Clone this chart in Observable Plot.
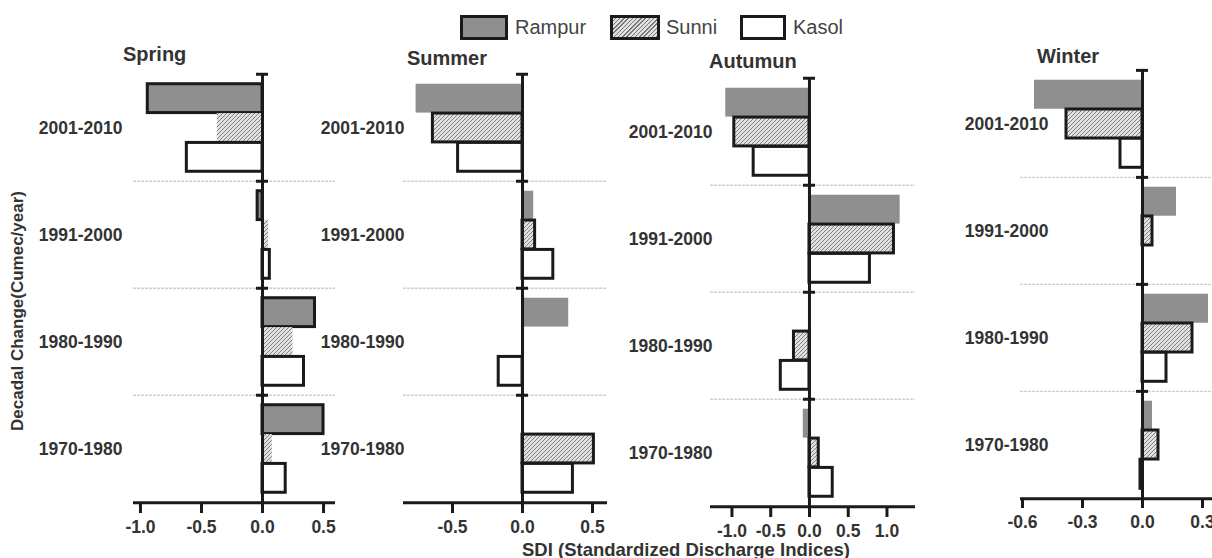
<!DOCTYPE html>
<html><head><meta charset="utf-8">
<script src="https://cdn.jsdelivr.net/npm/d3@7"></script>
<script src="https://cdn.jsdelivr.net/npm/@observablehq/plot@0.6"></script>
<style>
html,body{margin:0;padding:0;background:#fff;overflow:hidden}
#chart{position:relative;width:1212px;height:558px;overflow:hidden;font-family:"Liberation Sans",Arial,sans-serif;color:#333;background:#fff}
.lab{position:absolute;white-space:nowrap;line-height:1}
.title{font-weight:bold;font-size:20px;color:#333}
.sw{position:absolute;box-sizing:border-box;border:3px solid #1a1a1a;height:25px}
.legtxt{font-size:20px;color:#444}
</style></head><body>
<svg width="0" height="0" style="position:absolute">
  <defs>
    <pattern id="hatch" patternUnits="userSpaceOnUse" width="4" height="4">
      <rect width="4" height="4" fill="#e0e0e0"></rect>
      <path d="M-1,1 l2,-2 M0,4 l4,-4 M3,5 l2,-2" stroke="#777" stroke-width="0.9"></path>
    </pattern>
  </defs>
</svg>
<div id="chart"></div>
<script>
// ---- data ----
const decades = ["2001-2010", "1991-2000", "1980-1990", "1970-1980"];
const stations = ["Rampur", "Sunni", "Kasol"];
const seasons = ["Spring", "Summer", "Autumun", "Winter"];

const springRampur = [-0.94, -0.04, 0.43, 0.50];
const springSunni  = [-0.37,  0.05, 0.25, 0.08];
const springKasol  = [-0.62,  0.06, 0.34, 0.19];

const summerRampur = [-0.76, 0.08, 0.33, 0.00];
const summerSunni  = [-0.64, 0.09, 0.00, 0.51];
const summerKasol  = [-0.46, 0.22, -0.17, 0.36];

const autumnRampur = [-1.08, 1.17, 0.00, -0.08];
const autumnSunni  = [-0.97, 1.09, -0.20, 0.12];
const autumnKasol  = [-0.72, 0.78, -0.37, 0.30];

const winterRampur = [-0.54, 0.17, 0.33, 0.05];
const winterSunni  = [-0.38, 0.05, 0.25, 0.08];
const winterKasol  = [-0.11, 0.00, 0.12, -0.01];

const springTicks = [-1.0, -0.5, 0.0, 0.5];
const summerTicks = [-0.5, 0.0, 0.5];
const autumnTicks = [-1.0, -0.5, 0.0, 0.5, 1.0];
const winterTicks = [-0.6, -0.3, 0.0, 0.3];

const yTitle = "Decadal Change(Cumec/year)";
const xTitle = "SDI (Standardized Discharge Indices)";

// ---- layout / style (not data) ----
const panels = [
  {season: "Spring", values: {Rampur: springRampur, Sunni: springSunni, Kasol: springKasol}, ticks: springTicks,
   left: 133, right: 335, top: 73, bottom: 503, domain: [-1.057, 0.598], gap: 11, title: [123, 44], rStroke: true, sStroke: false},
  {season: "Summer", values: {Rampur: summerRampur, Sunni: summerSunni, Kasol: summerKasol}, ticks: summerTicks,
   left: 403, right: 607, top: 73, bottom: 503, domain: [-0.85, 0.607], gap: -1, title: [407, 48], rStroke: false, sStroke: true},
  {season: "Autumun", values: {Rampur: autumnRampur, Sunni: autumnSunni, Kasol: autumnKasol}, ticks: autumnTicks,
   left: 710, right: 915, top: 77, bottom: 507, domain: [-1.277, 1.368], gap: -2, title: [709, 51], rStroke: false, sStroke: true},
  {season: "Winter", values: {Rampur: winterRampur, Sunni: winterSunni, Kasol: winterKasol}, ticks: winterTicks,
   left: 1020, right: 1240, top: 69, bottom: 498, domain: [-0.61, 0.49], gap: -28, title: [1037, 46], rStroke: false, sStroke: true}
];

const chart = document.getElementById("chart");
const SVGW = 1260, SVGH = 558;
const black = "#1a1a1a";

function addDiv(cls, text, css) {
  const d = document.createElement("div");
  d.className = cls;
  d.textContent = text;
  Object.assign(d.style, css);
  chart.appendChild(d);
  return d;
}

for (const P of panels) {
  const rows = [];
  stations.forEach(s => decades.forEach((d, i) => rows.push({station: s, decade: d, value: P.values[s][i]})));
  const bandH = (P.bottom - P.top) / decades.length;
  const barH = bandH * 0.273;
  const inset = (bandH - barH) / 2;
  const offs = {Rampur: -barH, Sunni: 0, Kasol: barH};
  const fills = {Rampur: "#8f8f8f", Sunni: "url(#hatch)", Kasol: "#ffffff"};
  const strokes = {Rampur: P.rStroke ? black : "none", Sunni: P.sStroke ? black : "none", Kasol: black};

  const svg = Plot.plot({
    width: SVGW, height: SVGH,
    marginLeft: P.left, marginRight: SVGW - P.right,
    marginTop: P.top, marginBottom: SVGH - P.bottom,
    style: {background: "transparent", overflow: "visible", maxWidth: "none",
            fontFamily: "'Liberation Sans', Arial, sans-serif", fontSize: "17.5px"},
    x: {domain: P.domain},
    y: {domain: decades, padding: 0},
    marks: [
      Plot.ruleY(decades.slice(1), {y: d => d, dy: -bandH / 2, stroke: "#cfcfcf", strokeWidth: 1.3, strokeDasharray: "3,1"}),
      ...stations.map(s => Plot.barX(rows.filter(r => r.station === s), {
        x: "value", y: "decade", insetTop: inset, insetBottom: inset, dy: offs[s],
        fill: fills[s], stroke: strokes[s], strokeWidth: 3
      })),
      Plot.ruleX([0], {stroke: black, strokeWidth: 3}),
      Plot.ruleY(decades, {y: d => d, x1: 0, x2: 0, insetLeft: -6, insetRight: -6, dy: -bandH / 2, stroke: black, strokeWidth: 3}),
      Plot.ruleY(decades.slice(-1), {y: d => d, dy: bandH / 2, stroke: black, strokeWidth: 3}),
      Plot.axisX({ticks: P.ticks, tickSize: 10, tickPadding: 7, stroke: black, strokeWidth: 3,
                  tickFormat: d => d.toFixed(1), fontWeight: "bold", fill: "#333", label: null}),
      Plot.axisY({tickSize: 0, tickPadding: P.gap, fontWeight: "bold", fill: "#333", label: null})
    ]
  });
  svg.style.position = "absolute";
  svg.style.left = "0px";
  svg.style.top = "0px";
  chart.appendChild(svg);

  addDiv("lab title", P.season, {left: P.title[0] + "px", top: P.title[1] + "px"});
}

// legend
const legend = [
  {name: "Rampur", sw: [460, 48], tx: 515, bg: "#8f8f8f"},
  {name: "Sunni", sw: [610, 50], tx: 666, bg: "url(#hatch)"},
  {name: "Kasol", sw: [740, 46], tx: 793, bg: "#ffffff"}
];
for (const L of legend) {
  const sw = document.createElement("div");
  sw.className = "sw";
  Object.assign(sw.style, {left: L.sw[0] + "px", top: "15px", width: L.sw[1] + "px"});
  if (L.name === "Sunni") {
    sw.style.background = "repeating-linear-gradient(-45deg, #777 0 1px, #e0e0e0 1px 3px)";
  } else {
    sw.style.background = L.bg;
  }
  chart.appendChild(sw);
  addDiv("lab legtxt", L.name, {left: L.tx + "px", top: "17px"});
}

// axis titles
addDiv("lab", xTitle, {left: "522px", top: "541px", fontSize: "18.5px", fontWeight: "bold", color: "#333"});
addDiv("lab", yTitle, {left: (17.5 - 150) + "px", top: (311 - 10) + "px", width: "300px", height: "20px",
  lineHeight: "20px", textAlign: "center", transform: "rotate(-90deg)", fontSize: "17px", fontWeight: "bold", color: "#333"});
</script>
</body></html>
